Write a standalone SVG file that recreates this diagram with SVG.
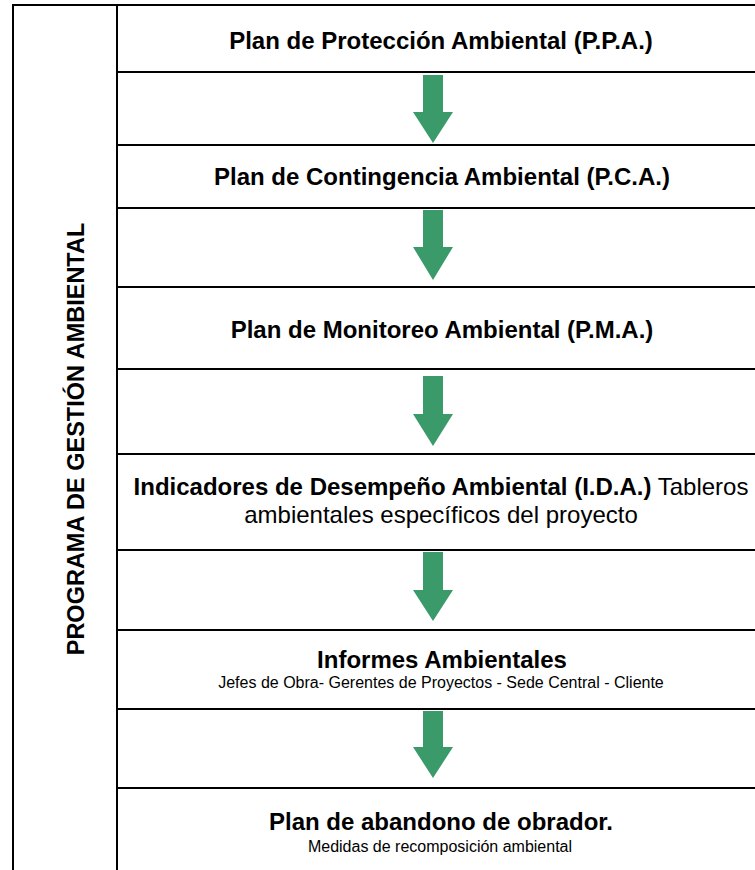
<svg xmlns="http://www.w3.org/2000/svg" width="755" height="870" viewBox="0 0 755 870">
<style>
.ln{stroke:#000;stroke-width:2;fill:none}
.t{font-family:"Liberation Sans",Arial,sans-serif;fill:#000;text-anchor:middle}
.b{font-weight:bold;font-size:24px}
.r{font-size:24px}
.s{font-size:16px}
.arr{fill:#3A9A6A}
</style>
<rect width="755" height="870" fill="#fff"/>
<g id="frame">
<line class="ln" x1="13" y1="5" x2="755" y2="5"/>
<line class="ln" x1="13" y1="4" x2="13" y2="870"/>
<line class="ln" x1="117" y1="4" x2="117" y2="870"/>
<line class="ln" x1="117" y1="72" x2="755" y2="72"/>
<line class="ln" x1="117" y1="145" x2="755" y2="145"/>
<line class="ln" x1="117" y1="208" x2="755" y2="208"/>
<line class="ln" x1="117" y1="287" x2="755" y2="287"/>
<line class="ln" x1="117" y1="369" x2="755" y2="369"/>
<line class="ln" x1="117" y1="454" x2="755" y2="454"/>
<line class="ln" x1="117" y1="550" x2="755" y2="550"/>
<line class="ln" x1="117" y1="630" x2="755" y2="630"/>
<line class="ln" x1="117" y1="709" x2="755" y2="709"/>
<line class="ln" x1="117" y1="788" x2="755" y2="788"/>
</g>
<g id="title">
<text class="t b" style="font-size:23.5px" transform="translate(84,439) rotate(-90)">PROGRAMA DE GESTIÓN AMBIENTAL</text>
</g>
<g id="ppa"><text class="t b" x="441" y="49">Plan de Protección Ambiental (P.P.A.)</text></g>
<g id="pca"><text class="t b" x="442" y="185">Plan de Contingencia Ambiental (P.C.A.)</text></g>
<g id="pma"><text class="t b" x="442" y="338">Plan de Monitoreo Ambiental (P.M.A.)</text></g>
<g id="ida"><text class="t r" x="441" y="495"><tspan font-weight="bold">Indicadores de Desempeño Ambiental (I.D.A.)</tspan> Tableros</text>
<text class="t r" x="441" y="523">ambientales específicos del proyecto</text></g>
<g id="inf"><text class="t b" x="442" y="668">Informes Ambientales</text>
<text class="t s" x="441" y="688">Jefes de Obra- Gerentes de Proyectos - Sede Central - Cliente</text></g>
<g id="aban"><text class="t b" x="441" y="830">Plan de abandono de obrador.</text>
<text class="t s" x="440" y="852">Medidas de recomposición ambiental</text></g>
<g id="connectors">
<polygon class="arr" points="423,75 443,75 443,112 453,112 433,143 413,112 423,112"/>
<polygon class="arr" points="423,210 443,210 443,247 453,247 433,280 413,247 423,247"/>
<polygon class="arr" points="423,376 443,376 443,414 453,414 433,446 413,414 423,414"/>
<polygon class="arr" points="423,552 443,552 443,590 453,590 433,621 413,590 423,590"/>
<polygon class="arr" points="423,711 443,711 443,747 453,747 433,778 413,747 423,747"/>
</g>
</svg>
